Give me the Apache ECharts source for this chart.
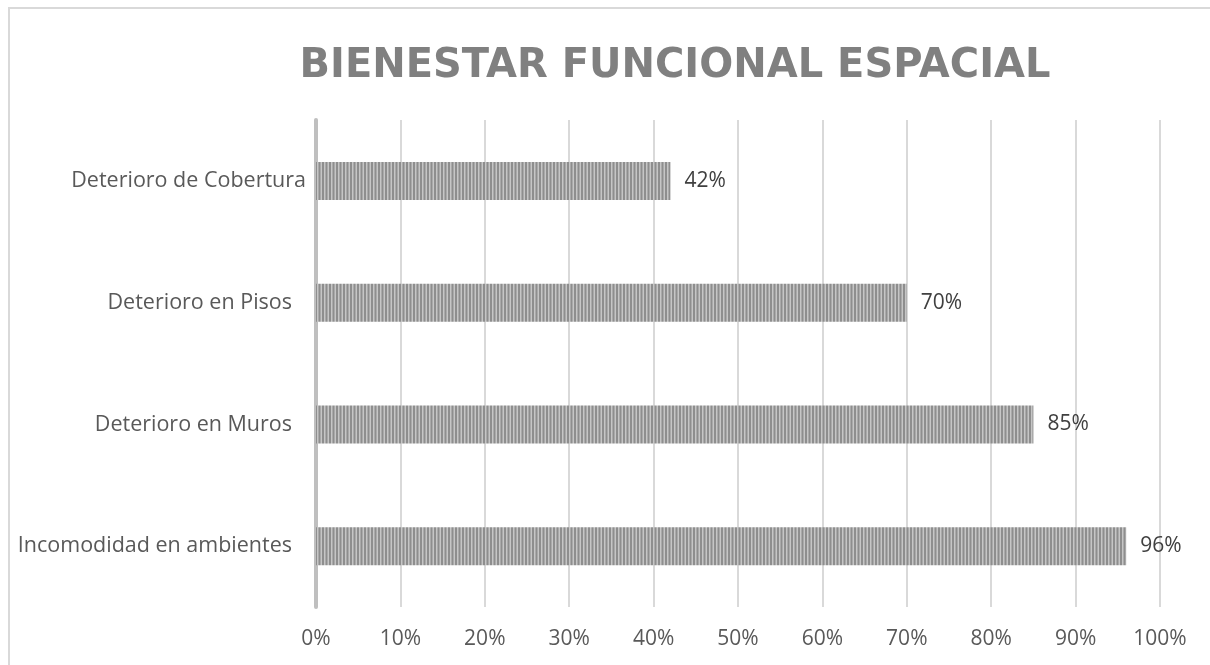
<!DOCTYPE html>
<html><head><meta charset="utf-8">
<script src="https://cdn.jsdelivr.net/npm/echarts@6/dist/echarts.min.js"></script>
<style>html,body{margin:0;padding:0;background:#fff}#c{width:1210px;height:665px}</style>
</head><body><div id="c"></div>
<script>
const categories = ['Incomodidad en ambientes', 'Deterioro en Muros', 'Deterioro en Pisos', 'Deterioro de Cobertura'];
const values = [0.96, 0.85, 0.70, 0.42];
const xTicks = ['0%','10%','20%','30%','40%','50%','60%','70%','80%','90%','100%'];

function stripePattern(){
  const cv = document.createElement('canvas');
  cv.width = 7; cv.height = 8;
  const ctx = cv.getContext('2d');
  ctx.fillStyle = '#c6c6c6'; ctx.fillRect(0,0,7,8);
  ctx.fillStyle = '#8e8e8e';
  ctx.fillRect(0,0,2,8); ctx.fillRect(3.5,0,2,8);
  return cv;
}

const FONT = 'Open Sans';
const chart = echarts.init(document.getElementById('c'));
chart.setOption({
  animation:false,
  title:{text:'BIENESTAR FUNCIONAL ESPACIAL', left:670, top:62, textAlign:'center', textVerticalAlign:'middle',
    textStyle:{fontFamily:'DejaVu Sans', fontWeight:'bold', fontSize:40, color:'#808080'}},
  graphic:[{type:'rect', shape:{x:9,y:8,width:1240,height:700}, style:{fill:'none', stroke:'#d9d9d9', lineWidth:2}, silent:true}],
  grid:{left:316, right:50, top:120, bottom:58, containLabel:false},
  xAxis:{type:'value', min:0, max:1, interval:0.1,
    axisLine:{show:false}, axisTick:{show:false},
    splitLine:{lineStyle:{color:'#d9d9d9', width:2}},
    axisLabel:{margin:22, fontFamily:FONT, fontSize:21, color:'#595959',
      formatter:(v)=>xTicks[Math.round(v*10)]}},
  yAxis:{type:'category', data:categories,
    axisLine:{lineStyle:{color:'#bfbfbf', width:4}}, axisTick:{show:false},
    axisLabel:{margin:10, fontFamily:FONT, fontSize:21.5, color:'#595959',
      formatter:(v)=> v==='Deterioro de Cobertura' ? v : '{p|'+v+'}',
      rich:{p:{fontFamily:FONT, fontSize:21.5, color:'#595959', padding:[0,14,0,0]}}}},
  series:[{type:'bar', data:values, barWidth:38,
    itemStyle:{color:{image:stripePattern(), repeat:'repeat'}},
    label:{show:true, position:'right', distance:14, fontFamily:FONT, fontSize:21, color:'#404040',
      formatter:(p)=>Math.round(p.value*100)+'%'}}]
});
</script></body></html>
